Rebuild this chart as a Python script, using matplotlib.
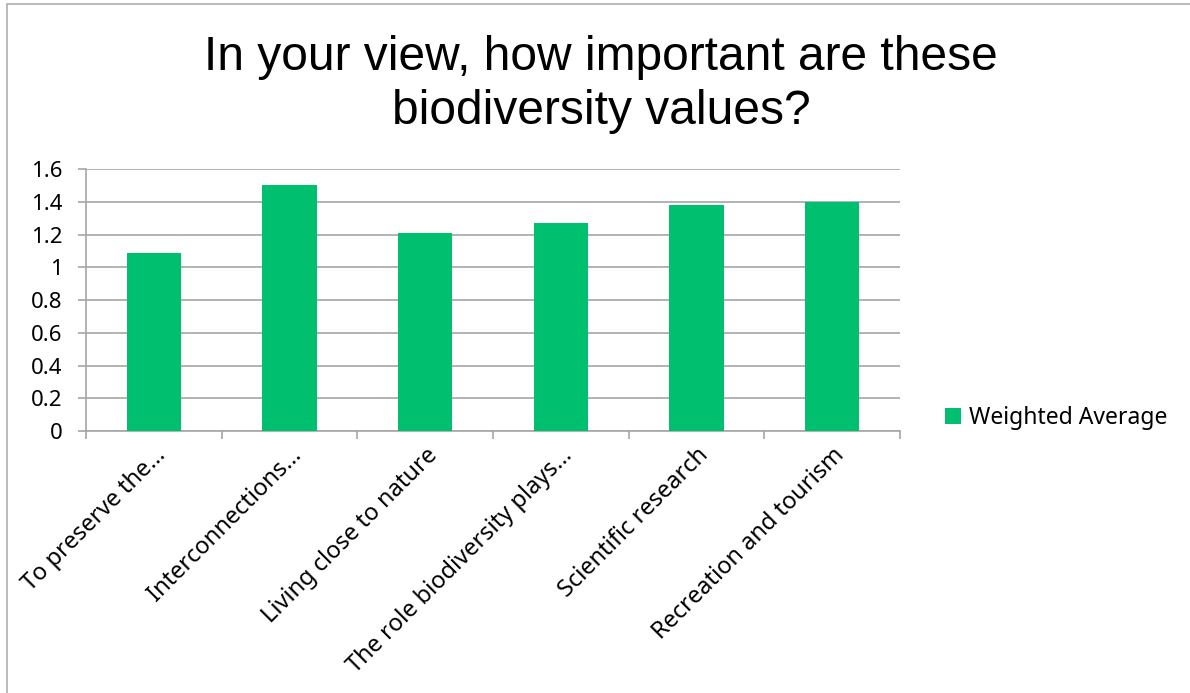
import matplotlib
matplotlib.use("Agg")
import matplotlib.pyplot as plt
from matplotlib.patches import Rectangle

categories = ["To preserve the…", "Interconnections…", "Living close to nature",
              "The role biodiversity plays…", "Scientific research", "Recreation and tourism"]
weighted_avg = [1.09, 1.50, 1.21, 1.27, 1.38, 1.40]
y_ticks = [0, 0.2, 0.4, 0.6, 0.8, 1, 1.2, 1.4, 1.6]
y_labels = ["0", "0.2", "0.4", "0.6", "0.8", "1", "1.2", "1.4", "1.6"]

green = "#00BF6F"
grid_col = "#A6A6A6"
tick_font = "Noto Sans"

fig = plt.figure(figsize=(11.9, 6.93), dpi=100)
# outer chart frame (right/bottom edges fall off the image)
top = 1 - 4 / 693
fig.patches.append(Rectangle((7 / 1190, -0.1), 1.2, top + 0.1,
                             transform=fig.transFigure, fill=False,
                             edgecolor="#B4B4B4", linewidth=1.3))

ax = fig.add_axes([0.0723, 0.378, 0.684, 0.378])
x = list(range(len(categories)))
ax.bar(x, weighted_avg, width=0.4, color=green, zorder=3, label="Weighted Average")

ax.set_xlim(-0.5, len(categories) - 0.5)
ax.set_ylim(0, 1.6)
ax.set_yticks(y_ticks)
ax.set_yticklabels(y_labels, fontsize=16, family=tick_font)
ax.yaxis.grid(True, color=grid_col, linewidth=1.2, zorder=0)

# category boundary ticks on x axis, labels centred under bars
ax.set_xticks([i - 0.5 for i in range(len(categories) + 1)])
ax.set_xticklabels([])
ax.set_xticks(x, minor=True)
ax.set_xticklabels(categories, minor=True, rotation=45, ha="right", va="top",
                   rotation_mode="anchor", fontsize=17, family=tick_font)
ax.tick_params(axis="x", which="major", length=6, color=grid_col, width=1.2)
ax.tick_params(axis="x", which="minor", length=0, pad=9)
ax.tick_params(axis="y", length=6, color=grid_col, width=1.2, pad=11)

for s in ["top", "right"]:
    ax.spines[s].set_visible(False)
ax.spines["left"].set_color(grid_col)
ax.spines["bottom"].set_color(grid_col)
ax.spines["left"].set_linewidth(1.2)
ax.spines["bottom"].set_linewidth(1.2)

fig.text(0.505, 0.95, "In your view, how important are these\nbiodiversity values?",
         ha="center", va="top", fontsize=34.5, family="Liberation Sans", linespacing=1.28)

leg = ax.legend(loc="center left", bbox_to_anchor=(1.03, 0.05), frameon=False,
                prop={"family": tick_font, "size": 16.5},
                handlelength=0.7, handleheight=0.7, handletextpad=0.35)

fig.savefig("out.png", dpi=100)
